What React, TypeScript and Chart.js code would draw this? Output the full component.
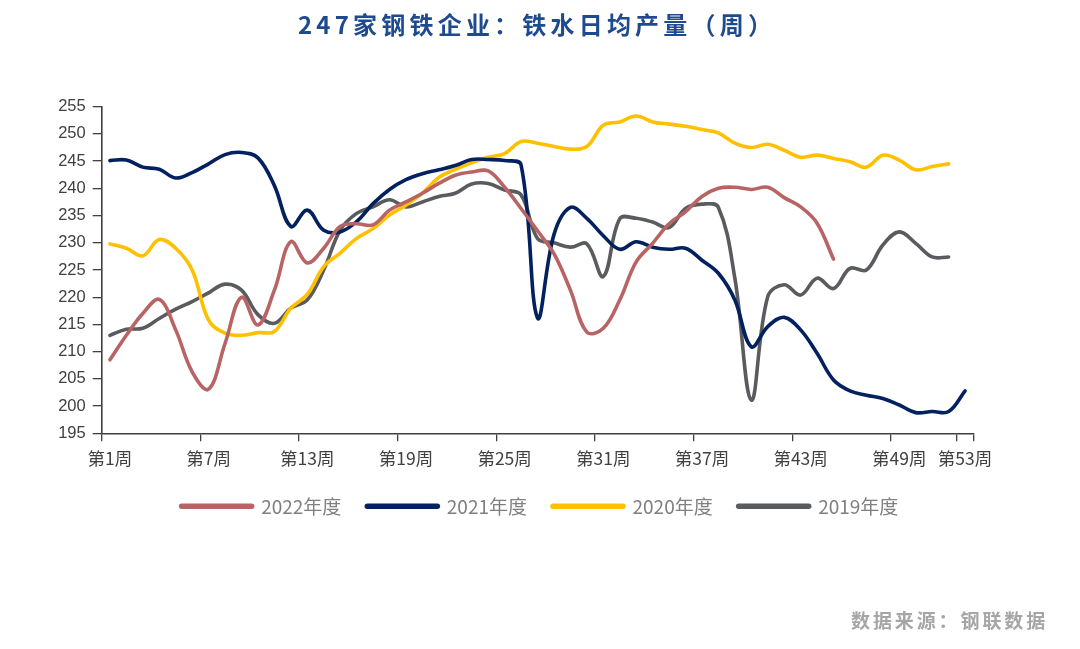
import { useEffect, useRef } from "react";
import { Chart, registerables } from "chart.js";

Chart.register(...registerables);

const weeks = [
  "第1周", "第2周", "第3周", "第4周", "第5周", "第6周", "第7周", "第8周", "第9周", "第10周",
  "第11周", "第12周", "第13周", "第14周", "第15周", "第16周", "第17周", "第18周", "第19周", "第20周",
  "第21周", "第22周", "第23周", "第24周", "第25周", "第26周", "第27周", "第28周", "第29周", "第30周",
  "第31周", "第32周", "第33周", "第34周", "第35周", "第36周", "第37周", "第38周", "第39周", "第40周",
  "第41周", "第42周", "第43周", "第44周", "第45周", "第46周", "第47周", "第48周", "第49周", "第50周",
  "第51周", "第52周", "第53周",
];

// indices of the week labels that are printed on the axis
const shownWeekIdx = [0, 6, 12, 18, 24, 30, 36, 42, 48, 52];

const yTicksMin = 195;
const yTicksMax = 255;
const yTicksStep = 5;

const y2022 = [
  208.5, 213.0, 217.0, 219.6, 214.0, 206.3, 203.1, 211.5, 220.0, 214.9,
  221.3, 230.2, 226.3, 229.0, 233.0, 233.5, 233.3, 236.0, 237.5, 239.1,
  240.9, 242.4, 243.0, 243.2, 240.2, 236.3, 232.2, 228.0, 221.3, 213.6,
  214.3, 219.5, 226.5, 229.9, 233.5, 235.7, 238.5, 240.0, 240.2, 239.8,
  240.2, 238.3, 236.6, 233.6, 227.0,
];

const y2021 = [
  245.1, 245.2, 243.9, 243.5, 241.9, 242.9, 244.5, 246.2, 246.6, 245.6,
  240.5, 233.0, 236.0, 232.3, 232.0, 233.9, 237.2, 239.8, 241.6, 242.7,
  243.4, 244.2, 245.3, 245.3, 245.1, 244.3, 216.2, 231.5, 236.5, 234.5,
  231.3, 228.8, 230.2, 229.2, 228.8, 229.0, 226.8, 224.4, 219.5, 210.9,
  214.6, 216.3, 214.0, 209.7, 204.8, 202.8, 202.0, 201.4, 200.2, 198.8,
  199.0, 199.0, 202.8,
];

const y2020 = [
  229.8, 229.0, 227.6, 230.6, 229.0, 225.0, 215.8, 213.4, 213.0, 213.5,
  213.7, 218.0, 220.5, 225.6, 228.1, 230.8, 232.6, 235.1, 236.9, 239.1,
  242.0, 243.5, 244.7, 245.7, 246.4, 248.6, 248.3, 247.7, 247.2, 247.7,
  251.6, 252.2, 253.3, 252.2, 251.8, 251.4, 250.8, 250.2, 248.3, 247.5,
  248.1, 247.0, 245.7, 246.1, 245.5, 244.9, 243.9, 246.1, 245.2, 243.4,
  244.0, 244.5,
];

const y2019 = [
  213.0, 214.1, 214.3, 216.1, 217.8, 219.2, 220.8, 222.4, 221.3, 216.8,
  215.2, 218.0, 219.5, 225.0, 232.3, 235.4, 236.6, 237.9, 236.6, 237.5,
  238.5, 239.1, 240.8, 240.9, 239.7, 238.8, 230.8, 230.0, 229.2, 229.8,
  223.8, 234.4, 234.5, 233.8, 232.8, 236.3, 237.1, 236.5, 223.5, 201.1,
  220.1, 222.3, 220.4, 223.5, 221.6, 225.3, 225.0, 229.6, 232.0, 229.9,
  227.4, 227.4,
];

const seriesNames = ["2022年度", "2021年度", "2020年度", "2019年度"];
const seriesColors = ["#B86464", "#04215F", "#FFC000", "#5A5B5F"];
const seriesValues = [y2022, y2021, y2020, y2019];

const axisColor = "#404040";

export default function App() {
  const ref = useRef<HTMLCanvasElement>(null);

  useEffect(() => {
    const canvas = ref.current;
    if (!canvas) return;
    const chart = new Chart(canvas, {
      type: "line",
      data: {
        labels: weeks,
        datasets: seriesValues.map((vals, i) => ({
          label: seriesNames[i],
          data: vals,
          borderColor: seriesColors[i],
          backgroundColor: seriesColors[i],
          borderWidth: 3.6,
          pointRadius: 0,
          pointHoverRadius: 0,
          tension: 0.38,
          borderCapStyle: "round" as const,
          borderJoinStyle: "round" as const,
          fill: false,
          yAxisID: "y",
          xAxisID: "x",
        })),
      },
      options: {
        responsive: false,
        animation: false,
        layout: { padding: { top: 106.7, bottom: 123.2, left: 0, right: 0 } },
        plugins: {
          title: { display: false },
          tooltip: { enabled: false },
          legend: {
            display: true,
            position: "bottom",
            align: "center",
            labels: {
              usePointStyle: true,
              pointStyleWidth: 70,
              padding: 26,
              color: "#7F7F7F",
              font: { family: '"Noto Sans CJK SC", sans-serif', size: 19 },
              generateLabels: (c: any) =>
                c.data.datasets.map((ds: any, i: number) => ({
                  text: ds.label,
                  fillStyle: ds.borderColor,
                  strokeStyle: ds.borderColor,
                  lineWidth: 5.5,
                  lineCap: "round",
                  pointStyle: "line",
                  hidden: false,
                  datasetIndex: i,
                  fontColor: "#808080",
                })),
            },
          },
        },
        scales: {
          x: {
            type: "category",
            offset: true,
            grid: {
              offset: true,
              drawOnChartArea: false,
              drawTicks: true,
              tickLength: 8,
              lineWidth: 1.3,
              color: (ctx: any) =>
                ctx.type === "tick" && !shownWeekIdx.includes(ctx.index)
                  ? "rgba(0,0,0,0)"
                  : axisColor,
            },
            border: { display: true, color: axisColor, width: 1.6 },
            ticks: {
              autoSkip: false,
              maxRotation: 0,
              minRotation: 0,
              padding: 7,
              color: axisColor,
              font: { family: '"Noto Sans CJK SC", sans-serif', size: 17.5 },
              callback: (_v: any, i: number) => (shownWeekIdx.includes(i) ? weeks[i] : ""),
            },
            afterFit: (s: any) => {
              s.height = 37.5;
            },
          },
          y: {
            type: "linear",
            position: "left",
            min: yTicksMin,
            max: yTicksMax,
            grid: {
              drawOnChartArea: false,
              drawTicks: true,
              tickLength: 9,
              lineWidth: 1.3,
              color: axisColor,
            },
            border: { display: true, color: axisColor, width: 1.6 },
            ticks: {
              stepSize: yTicksStep,
              padding: 7,
              color: axisColor,
              font: { family: '"Liberation Sans", Arial, sans-serif', size: 16.5 },
            },
            afterFit: (s: any) => {
              s.width = 101.7;
            },
          },
          y2: {
            type: "linear",
            position: "right",
            min: yTicksMin,
            max: yTicksMax,
            grid: { display: false, drawTicks: false },
            border: { display: false },
            ticks: { display: false },
            afterFit: (s: any) => {
              s.width = 106.7;
            },
          },
        },
      },
    } as any);
    return () => {
      chart.destroy();
    };
  }, []);

  return (
    <div
      style={{
        position: "absolute",
        left: 0,
        top: 0,
        width: 1080,
        height: 649,
        background: "#ffffff",
        overflow: "hidden",
      }}
    >
      <canvas
        ref={ref}
        width={1080}
        height={649}
        style={{ position: "absolute", left: 0, top: 0, width: 1080, height: 649 }}
      />
      <div
        style={{
          position: "absolute",
          left: 298,
          top: 9,
          fontFamily: '"Noto Sans CJK SC", sans-serif',
          fontSize: 24,
          lineHeight: "30px",
          fontWeight: "bold",
          color: "#1E4A8F",
          letterSpacing: "4.2px",
          whiteSpace: "nowrap",
        }}
      >
        247家钢铁企业：铁水日均产量（周）
      </div>
      <div
        style={{
          position: "absolute",
          left: 851,
          top: 607,
          fontFamily: '"Noto Sans CJK SC", sans-serif',
          fontSize: 19,
          lineHeight: "26px",
          fontWeight: "bold",
          color: "#A6A6A6",
          letterSpacing: "2.9px",
          whiteSpace: "nowrap",
        }}
      >
        数据来源：钢联数据
      </div>
    </div>
  );
}
